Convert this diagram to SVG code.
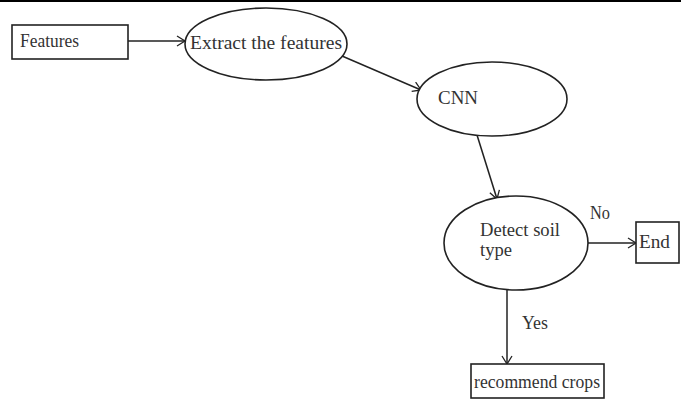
<svg xmlns="http://www.w3.org/2000/svg" width="681" height="402" viewBox="0 0 681 402">
<defs>
<marker id="arr" markerWidth="12" markerHeight="12" refX="10" refY="6" orient="auto" markerUnits="userSpaceOnUse">
<path d="M2,1 L10,6 L2,11" fill="none" stroke="#222" stroke-width="1.3"/>
</marker>
</defs>
<style>
.shape{fill:#fff;stroke:#222;stroke-width:1.6}
.lbl{font-family:"Liberation Serif","Times New Roman",serif;font-size:18px;fill:#333}
.edge{stroke:#222;stroke-width:1.5;fill:none;marker-end:url(#arr)}
</style>
<rect width="681" height="402" fill="#fff"/>
<line x1="0" y1="1" x2="681" y2="1" stroke="#000" stroke-width="2"/>
<g id="connectors">
<line class="edge" x1="128" y1="41" x2="185" y2="41"/>
<line class="edge" x1="342" y1="56" x2="421" y2="90"/>
<line class="edge" x1="477" y1="135" x2="497" y2="199"/>
<line class="edge" x1="588" y1="243" x2="636" y2="243"/>
<line class="edge" x1="507" y1="290" x2="507" y2="364"/>
<text class="lbl" x="590" y="219" textLength="20" lengthAdjust="spacingAndGlyphs">No</text>
<text class="lbl" x="522" y="329" textLength="26" lengthAdjust="spacingAndGlyphs">Yes</text>
</g>
<g id="features">
<rect class="shape" x="12" y="25" width="116" height="34"/>
<text class="lbl" x="20" y="47" textLength="59" lengthAdjust="spacingAndGlyphs">Features</text>
</g>
<g id="extract">
<ellipse class="shape" cx="266" cy="44" rx="81" ry="36"/>
<text class="lbl" x="190" y="49" textLength="152" lengthAdjust="spacingAndGlyphs">Extract the features</text>
</g>
<g id="cnn">
<ellipse class="shape" cx="492" cy="99" rx="75" ry="37"/>
<text class="lbl" x="438" y="104" textLength="40" lengthAdjust="spacingAndGlyphs">CNN</text>
</g>
<g id="detect">
<ellipse class="shape" cx="516" cy="243" rx="72" ry="47"/>
<text class="lbl" x="480" y="236" textLength="80" lengthAdjust="spacingAndGlyphs">Detect soil</text>
<text class="lbl" x="480" y="256" textLength="32" lengthAdjust="spacingAndGlyphs">type</text>
</g>
<g id="end">
<rect class="shape" x="636" y="222" width="43" height="41"/>
<text class="lbl" x="639" y="248" textLength="31" lengthAdjust="spacingAndGlyphs">End</text>
</g>
<g id="recommend">
<rect class="shape" x="471" y="364" width="133" height="34"/>
<text class="lbl" x="474" y="388" textLength="126" lengthAdjust="spacingAndGlyphs">recommend crops</text>
</g>
</svg>
